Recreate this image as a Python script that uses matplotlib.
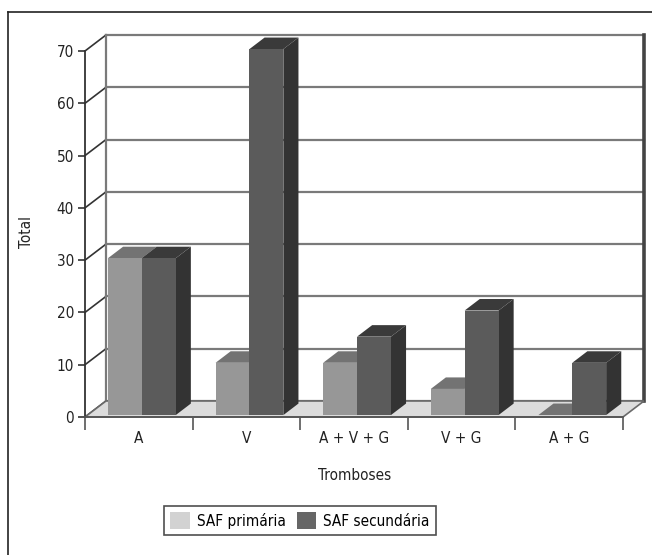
import matplotlib.pyplot as plt
import matplotlib.patches as patches
from matplotlib.lines import Line2D

categories = ['A', 'V', 'A + V + G', 'V + G', 'A + G']
series = ['SAF primária', 'SAF secundária']
primaria = [30, 10, 10, 5, 0]
secundaria = [30, 70, 15, 20, 10]
yticks = [0, 10, 20, 30, 40, 50, 60, 70]

# face colours: front, top, side
face_cols = [('#979797', '#737373', '#5e5e5e'),
             ('#5b5b5b', '#3a3a3a', '#333333')]
legend_cols = ['#d2d2d2', '#666666']

plt.rcParams['font.family'] = ['DejaVu Sans']
plt.rcParams['font.stretch'] = 'condensed'
fs = 11
fig = plt.figure(figsize=(6.52, 5.55), dpi=100)

# outer frame (left and top only visible)
fig.add_artist(Line2D([8/652, 8/652], [0, 1 - 12/555], color='#222222', lw=1.2))
fig.add_artist(Line2D([8/652, 1], [1 - 12/555, 1 - 12/555], color='#222222', lw=1.2))

ax = fig.add_axes([85/652, 138/555, 538/652, 366/555])
ax.set_xlim(0, len(categories))
ax.set_ylim(0, 70)
ax.patch.set_alpha(0)

n = len(categories)
DX, DY = 0.195, 3.06   # oblique depth offset in data units
ymax = yticks[-1]

# back wall
ax.add_patch(patches.Polygon([(DX, DY), (n + DX, DY), (n + DX, ymax + DY), (DX, ymax + DY)],
                             closed=True, fc='white', ec='none', clip_on=False, zorder=0))
for v in yticks:
    ax.plot([DX, n + DX], [v + DY, v + DY], color='#7a7a7a', lw=1.6, clip_on=False, zorder=1)
    ax.plot([0, DX], [v, v + DY], color='#333333', lw=1.2, clip_on=False, zorder=1)
ax.plot([DX, DX], [DY, ymax + DY], color='#7a7a7a', lw=1.6, clip_on=False, zorder=1)
ax.plot([n + DX, n + DX], [DY, ymax + DY], color='#444444', lw=2.6, clip_on=False, zorder=1)

# floor
ax.add_patch(patches.Polygon([(0, 0), (n, 0), (n + DX, DY), (DX, DY)], closed=True,
                             fc='#dcdcdc', ec='#6a6a6a', lw=1.2, clip_on=False, zorder=2))

# bars
f0 = 0.12
bw = 0.315
ddx, ddy = DX * 0.72, DY * 0.72
for i in range(n):
    for j, vals in enumerate([primaria, secundaria]):
        v = vals[i]
        x = i + 0.19 + j * bw + f0 * DX
        b = f0 * DY
        fc, tc, sc = face_cols[j]
        top = [(x, b + v), (x + bw, b + v), (x + bw + ddx, b + v + ddy), (x + ddx, b + v + ddy)]
        side = [(x + bw, b), (x + bw + ddx, b + ddy), (x + bw + ddx, b + v + ddy), (x + bw, b + v)]
        ax.add_patch(patches.Polygon(side, closed=True, fc=sc, ec='none', clip_on=False, zorder=3))
        ax.add_patch(patches.Polygon(top, closed=True, fc=tc, ec='none', clip_on=False, zorder=3))
        if v > 0:
            ax.add_patch(patches.Rectangle((x, b), bw, v, fc=fc, ec='none', clip_on=False, zorder=3))

# axes
for s in ['top', 'right']:
    ax.spines[s].set_visible(False)
ax.spines['left'].set_color('#333333')
ax.spines['left'].set_linewidth(1.3)
ax.spines['bottom'].set_color('#555555')
ax.spines['bottom'].set_linewidth(1.3)
ax.spines['left'].set_zorder(4)
ax.spines['bottom'].set_zorder(4)

ax.set_yticks(yticks)
ax.tick_params(axis='y', direction='out', length=5, width=1.2, color='#333333',
               labelsize=fs, labelcolor='#222222', pad=3)
ax.set_xticks(range(n + 1))
ax.set_xticklabels([])
ax.set_xticks([i + 0.5 for i in range(n)], minor=True)
ax.set_xticklabels(categories, minor=True, fontsize=fs, color='#222222')
ax.tick_params(axis='x', which='major', direction='out', length=9, width=1.2, color='#555555')
ax.tick_params(axis='x', which='minor', length=0, pad=10)

fig.text(27/652, 1 - 232/555, 'Total', rotation=90, ha='center', va='center',
         fontsize=fs, color='#222222')
fig.text(355/652, 1 - 475/555, 'Tromboses', ha='center', va='center',
         fontsize=fs, color='#222222')

handles = [patches.Patch(fc=c, ec='none') for c in legend_cols]
leg = fig.legend(handles, series, loc='center', bbox_to_anchor=(300/652, 1 - 520.5/555),
                 ncol=2, fontsize=fs, frameon=True, fancybox=False, edgecolor='#222222',
                 handlelength=1.3, handleheight=1.3, columnspacing=0.7, handletextpad=0.45,
                 borderpad=0.4, borderaxespad=0)
leg.get_frame().set_linewidth(1.2)

fig.savefig('out.png', dpi=100)
